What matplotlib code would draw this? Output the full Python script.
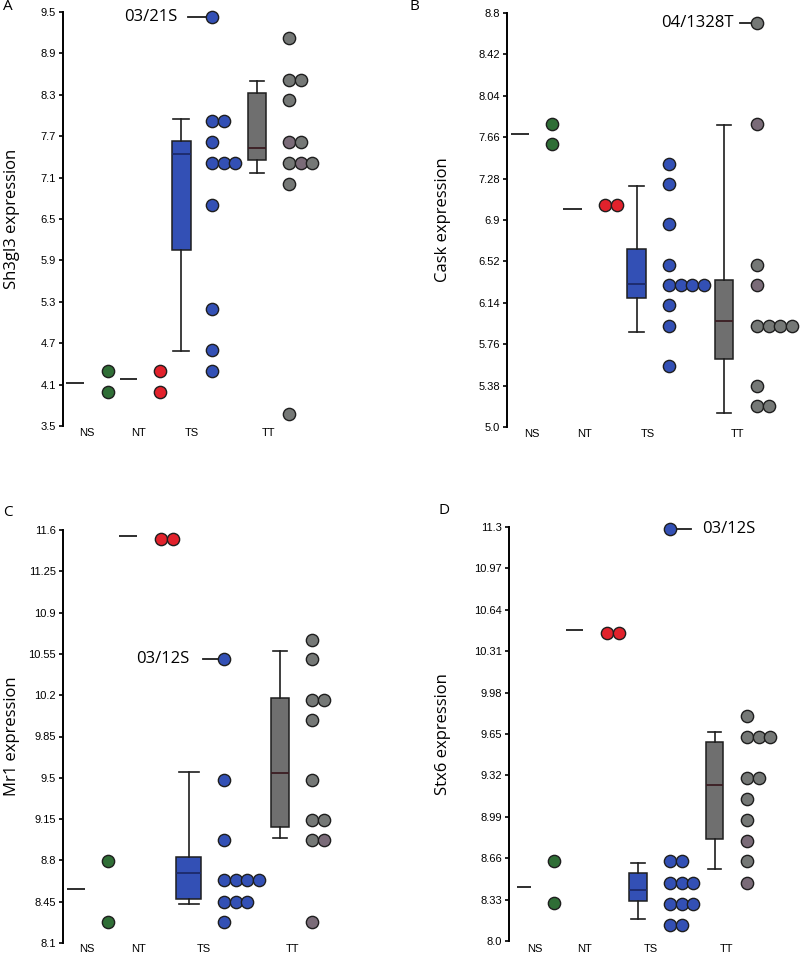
import matplotlib
matplotlib.use("Agg")
import matplotlib.pyplot as plt
import numpy as np

# ---- data ----
# panel A: Sh3gl3
a_ticks = [3.5, 4.1, 4.7, 5.3, 5.9, 6.5, 7.1, 7.7, 8.3, 8.9, 9.5]
a_ns = [4.30, 3.99]
a_nt = [4.30, 3.99]
a_ts = [9.43, 7.92, 7.92, 7.62, 7.31, 7.31, 7.31, 6.71, 5.20, 4.60, 4.30]
a_tt = [9.13, 8.52, 8.52, 8.22, 7.62, 7.62, 7.31, 7.31, 7.31, 7.01, 3.68]
a_med = [4.12, 4.18]                          # NS, NT median lines
a_ts_box = [6.05, 7.44, 7.63, 4.59, 7.95]     # q1, med, q3, low, high
a_tt_box = [7.35, 7.53, 8.32, 7.17, 8.50]

# panel B: Cask
b_ticks = [5.0, 5.38, 5.76, 6.14, 6.52, 6.9, 7.28, 7.66, 8.04, 8.42, 8.8]
b_ns = [7.785, 7.60]
b_nt = [7.04, 7.04]
b_ts = [7.415, 7.23, 6.86, 6.49, 6.30, 6.30, 6.30, 6.30, 6.12, 5.93, 5.56]
b_tt = [8.71, 7.785, 6.49, 6.30, 5.93, 5.93, 5.93, 5.93, 5.38, 5.19, 5.19]
b_med = [7.69, 7.005]
b_ts_box = [6.183, 6.308, 6.636, 5.87, 7.21]
b_tt_box = [5.62, 5.97, 6.35, 5.13, 7.776]

# panel C: Mr1
c_ticks = [8.1, 8.45, 8.8, 9.15, 9.5, 9.85, 10.2, 10.55, 10.9, 11.25, 11.6]
c_ns = [8.797, 8.28]
c_nt = [11.52, 11.52]
c_ts = [10.505, 9.48, 8.97, 8.63, 8.63, 8.63, 8.63, 8.45, 8.45, 8.45, 8.28]
c_tt = [10.67, 10.505, 10.16, 10.16, 9.99, 9.48, 9.14, 9.14, 8.97, 8.97, 8.28]
c_med = [8.56, 11.55]
c_ts_box = [8.475, 8.69, 8.825, 8.43, 9.55]
c_tt_box = [9.08, 9.537, 10.175, 8.99, 10.578]

# panel D: Stx6
d_ticks = [8.0, 8.33, 8.66, 8.99, 9.32, 9.65, 9.98, 10.31, 10.64, 10.97, 11.3]
d_ns = [8.635, 8.30]
d_nt = [10.458, 10.458]
d_ts = [11.284, 8.635, 8.635, 8.462, 8.462, 8.462, 8.298, 8.298, 8.298, 8.13, 8.13]
d_tt = [9.797, 9.628, 9.628, 9.628, 9.296, 9.296, 9.134, 8.967, 8.80, 8.635, 8.465]
d_med = [8.428, 10.48]
d_ts_box = [8.319, 8.409, 8.544, 8.173, 8.624]
d_tt_box = [8.815, 9.245, 9.588, 8.571, 9.667]

groups = ["NS", "NT", "TS", "TT"]

GREEN, RED, BLUE, GREY = "#2f6e36", "#e2222c", "#3350b5", "#757876"
MAUVE = "#7a6b78"
EDGE = "#1e1e1e"

fig = plt.figure(figsize=(8, 9.55), dpi=100)
W, H = 800.0, 955.0


def make_ax(spine_x, top_y, bot_y, ticks, ylab, letter, letter_xy, lab_x):
    width = 330
    ax = fig.add_axes([spine_x / W, 1 - bot_y / H, width / W, (bot_y - top_y) / H])
    ax.set_xlim(0, width)
    ax.set_ylim(ticks[0], ticks[-1])
    for s in ("top", "right", "bottom"):
        ax.spines[s].set_visible(False)
    ax.spines["left"].set_linewidth(1.4)
    ax.set_yticks(ticks)
    ax.set_yticklabels([("%g" % t) if t != int(t) else "%.1f" % t for t in ticks],
                       fontsize=8, family="Liberation Sans")
    ax.tick_params(axis="y", length=3, width=1.2, pad=2)
    ax.set_xticks([])
    ax.set_ylabel(ylab, fontsize=12, family="Open Sans")
    # lab_x is the right edge of the rotated label
    ax.yaxis.set_label_coords((lab_x - spine_x) / width, 0.5)
    fig.text(letter_xy[0] / W, 1 - letter_xy[1] / H, letter, fontsize=11,
             family="Open Sans", va="center", ha="left")
    return ax


def dots(ax, x0, vals, color, tint=()):
    step = 11.7
    seen = {}
    for i, v in enumerate(vals):
        k = seen.get(v, 0)
        seen[v] = k + 1
        c = MAUVE if (v, k) in tint else color
        ax.scatter(x0 + k * step, v, s=78, color=c, edgecolor=EDGE, linewidth=1.0,
                   zorder=3, clip_on=False)


def box(ax, xc, w, stats, color, medcolor):
    q1, med, q3, lo, hi = stats
    ax.bxp([dict(med=med, q1=q1, q3=q3, whislo=lo, whishi=hi, fliers=[])],
           positions=[xc], widths=[w], patch_artist=True, showfliers=False,
           boxprops=dict(facecolor=color, edgecolor=EDGE, linewidth=1.1),
           medianprops=dict(color=medcolor, linewidth=1.3),
           whiskerprops=dict(color=EDGE, linewidth=1.2),
           capprops=dict(color=EDGE, linewidth=1.2), capwidths=[w * 0.8],
           manage_ticks=False)


def panel(ax, lay, ns, nt, ts, tt, med, tsb, ttb, tint, label_y):
    ax.hlines(med[0], lay["ns_line"][0], lay["ns_line"][1], color=EDGE, lw=1.3)
    ax.hlines(med[1], lay["nt_line"][0], lay["nt_line"][1], color=EDGE, lw=1.3)
    dots(ax, lay["ns_dot"], ns, GREEN)
    dots(ax, lay["nt_dot"], nt, RED)
    box(ax, lay["ts_box"], lay["ts_w"], tsb, BLUE, "#1c2a6a")
    box(ax, lay["tt_box"], lay["tt_w"], ttb, "#6f6f6f", "#3a1c22")
    dots(ax, lay["ts_dot"], ts, BLUE)
    dots(ax, lay["tt_dot"], tt, GREY, tint)
    for g, x in zip(groups, lay["labels"]):
        ax.text(x, label_y, g, ha="center", va="center", fontsize=8,
                family="Liberation Sans", transform=ax.get_xaxis_transform())


# panel A
axA = make_ax(63, 12, 426, a_ticks, "Sh3gl3 expression", "A", (3, 7), 20)
panel(axA, dict(ns_line=(3, 21), ns_dot=45, nt_line=(57, 74), nt_dot=97,
                ts_box=118, ts_w=19, ts_dot=149, tt_box=194, tt_w=18, tt_dot=226,
                labels=(24, 76, 129, 205)),
      a_ns, a_nt, a_ts, a_tt, a_med, a_ts_box, a_tt_box,
      [(7.62, 0), (7.31, 1)], -0.017)
axA.plot([125, 144], [9.43, 9.43], color=EDGE, lw=1.3)
axA.text(88, 9.43, "03/21S", fontsize=12, family="Open Sans", va="center", ha="center")

# panel B
axB = make_ax(507, 13, 427, b_ticks, "Cask expression", "B", (410, 7), 451)
panel(axB, dict(ns_line=(4, 22), ns_dot=45, nt_line=(56, 75), nt_dot=98,
                ts_box=129.5, ts_w=19, ts_dot=162, tt_box=217, tt_w=18, tt_dot=250,
                labels=(25, 77, 141, 230)),
      b_ns, b_nt, b_ts, b_tt, b_med, b_ts_box, b_tt_box,
      [(7.785, 0), (6.30, 0)], -0.017)
axB.plot([233, 244], [8.71, 8.71], color=EDGE, lw=1.3)
axB.text(190, 8.71, "04/1328T", fontsize=12, family="Open Sans", va="center", ha="center")

# panel C
axC = make_ax(63, 530, 943, c_ticks, "Mr1 expression", "C", (3, 512), 20)
panel(axC, dict(ns_line=(4, 22), ns_dot=45, nt_line=(56, 74), nt_dot=98,
                ts_box=125.5, ts_w=25, ts_dot=161, tt_box=217, tt_w=18, tt_dot=249,
                labels=(24, 76, 141, 230)),
      c_ns, c_nt, c_ts, c_tt, c_med, c_ts_box, c_tt_box,
      [(8.97, 1), (8.28, 0)], -0.015)
axC.plot([140, 157], [10.505, 10.505], color=EDGE, lw=1.3)
axC.text(100, 10.505, "03/12S", fontsize=12, family="Open Sans", va="center", ha="center")

# panel D
axD = make_ax(509, 527, 941, d_ticks, "Stx6 expression", "D", (438, 510), 451)
panel(axD, dict(ns_line=(8, 22), ns_dot=45, nt_line=(57, 74), nt_dot=98,
                ts_box=129, ts_w=18, ts_dot=161, tt_box=205.5, tt_w=17, tt_dot=238,
                labels=(26, 76, 142, 217)),
      d_ns, d_nt, d_ts, d_tt, d_med, d_ts_box, d_tt_box,
      [(8.80, 0), (8.465, 0)], -0.02)
axD.plot([168, 182], [11.284, 11.284], color=EDGE, lw=1.3)
axD.text(220, 11.284, "03/12S", fontsize=12, family="Open Sans", va="center", ha="center")

fig.savefig("out.png", dpi=100)
